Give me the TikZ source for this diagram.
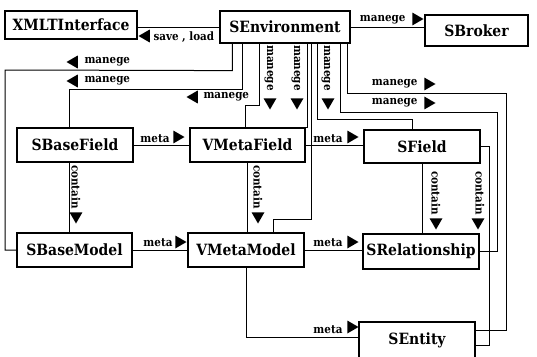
\documentclass[tikz,border=0pt]{standalone}
\usepackage{fontspec}
\setmainfont{DejaVu Serif Condensed}
\usetikzlibrary{shapes.geometric}
\begin{document}
\begin{tikzpicture}[x=1pt,y=-1pt,line width=1pt,
  box/.style={draw,line width=1.2pt,inner sep=0,font=\fontsize{15.5}{17}\selectfont\bfseries},
  lbl/.style={inner sep=0,font=\fontsize{11.5}{13}\selectfont\bfseries},
  vlbl/.style={lbl,rotate=-90},
  tri/.style={regular polygon,regular polygon sides=3,fill=black,draw=none,inner sep=0,minimum size=15pt},
  triR/.style={tri,shape border rotate=-90},
  triL/.style={tri,shape border rotate=90},
  triD/.style={tri,shape border rotate=180}]
\useasboundingbox (0,0) rectangle (537,356);

% classes
\node[box,minimum width=132pt,minimum height=28pt] (xml)  at (71,25)    {XMLTInterface};
\node[box,minimum width=130pt,minimum height=32pt] (env)  at (285,27)   {SEnvironment};
\node[box,minimum width=103pt,minimum height=31pt] (brk)  at (476.5,30.5) {SBroker};
\node[box,minimum width=116pt,minimum height=34pt] (sbf)  at (75,145)   {SBaseField};
\node[box,minimum width=115pt,minimum height=34pt] (vmf)  at (247.5,145) {VMetaField};
\node[box,minimum width=116pt,minimum height=33pt] (sf)   at (422,146.5) {SField};
\node[box,minimum width=115pt,minimum height=34pt] (sbm)  at (74.5,250) {SBaseModel};
\node[box,minimum width=116pt,minimum height=34pt] (vmm)  at (246,250)  {VMetaModel};
\node[box,minimum width=116pt,minimum height=35pt] (srel) at (421,251.5) {SRelationship};
\node[box,minimum width=116pt,minimum height=36pt] (sent) at (417,340)  {SEntity};

% SEnvironment links
\draw (env.west) -- (env.west -| xml.east);
\draw (env.east) -- (env.east -| brk.west);
\draw ([xshift=13pt]env.south west) -- ++(0,27) -- (5,70) |- (sbm.west);
\draw ([xshift=23pt]env.south west) -- ++(0,46) -| ([xshift=-6pt]sbf.north);
\draw ([xshift=40pt]env.south west) -- ++(0,62) -| ([xshift=-2.5pt]vmf.north);
\draw ([xshift=88pt]env.south west) |- (vmf.north east);
\draw ([xshift=92pt]env.south west) -- ++(0,176) -| ([xshift=27pt]vmm.north);
\draw ([xshift=98pt]env.south west) -- ++(0,76) -| ([xshift=-10pt]sf.north);
\draw ([xshift=121pt]env.south west) -- ++(0,69) -| ([xshift=18pt]srel.east) -- (srel.east);
\draw ([xshift=128pt]env.south west) -- ++(0,50) -| ([xshift=31pt,yshift=10pt]sent.east) -- ([yshift=10pt]sent.east);

% meta links
\draw (sbf.east) -- (vmf.west);
\draw (vmf.east) -- (vmf.east -| sf.west);
\draw (sbm.east) -- (vmm.west);
\draw (vmm.east) -- (vmm.east -| srel.west);
\draw (vmm.south) |- ([yshift=3pt]sent.west);

% contain links
\draw ([xshift=-6pt]sbf.south) -- ([xshift=-5.5pt]sbm.north);
\draw (vmf.south) -- (vmf.south |- vmm.north);
\draw (sf.south) -- (sf.south |- srel.north);
\draw (sf.east) -- ++(9,0) |- ([yshift=-5pt]sent.east);

% labels
\node[triL] (tSave) at (146,36) {};
\node[lbl,anchor=west] (lSave) at (153,37) {save , load};
\node[lbl,anchor=east] (lBrk) at (406,20) {manege};
\node[triR] (tBrk) at (416,19) {};

\node[triL] (tM1) at (74,62) {};
\node[lbl,anchor=west] (lM1) at (84,62) {manege};
\node[triL] (tM2) at (74,81) {};
\node[lbl,anchor=west] (lM2) at (84,81) {manege};
\node[triL] (tM3) at (194,97) {};
\node[lbl,anchor=west] (lM3) at (203,97) {manege};

\node[vlbl] (lD1) at (269,68) {manege};
\node[triD] (tD1) at (270,102) {};
\node[vlbl] (lD2) at (296,68) {manege};
\node[triD] (tD2) at (297,102) {};
\node[vlbl] (lD3) at (326,68) {manege};
\node[triD] (tD3) at (328,102) {};

\node[lbl,anchor=east] (lR1) at (418,84) {manege};
\node[triR] (tR1) at (428,84) {};
\node[lbl,anchor=east] (lR2) at (418,103) {manege};
\node[triR] (tR2) at (428,103) {};

\node[lbl,anchor=east] (lMeta1) at (170,139) {meta};
\node[triR] (tMeta1) at (177,137) {};
\node[lbl,anchor=east] (lMeta2) at (343,139) {meta};
\node[triR] (tMeta2) at (351,137) {};
\node[lbl,anchor=east] (lMeta3) at (173,243) {meta};
\node[triR] (tMeta3) at (179,242) {};
\node[lbl,anchor=east] (lMeta4) at (343,243) {meta};
\node[triR] (tMeta4) at (351,242) {};
\node[lbl,anchor=east] (lMeta5) at (343,330) {meta};
\node[triR] (tMeta5) at (351,327) {};

\node[vlbl] (lC1) at (76,187) {contain};
\node[triD] (tC1) at (76,216) {};
\node[vlbl] (lC2) at (258,187) {contain};
\node[triD] (tC2) at (258,216) {};
\node[vlbl] (lC3) at (436,193) {contain};
\node[triD] (tC3) at (436,222) {};
\node[vlbl] (lC4) at (480,193) {contain};
\node[triD] (tC4) at (478,222) {};
\end{tikzpicture}
\end{document}
